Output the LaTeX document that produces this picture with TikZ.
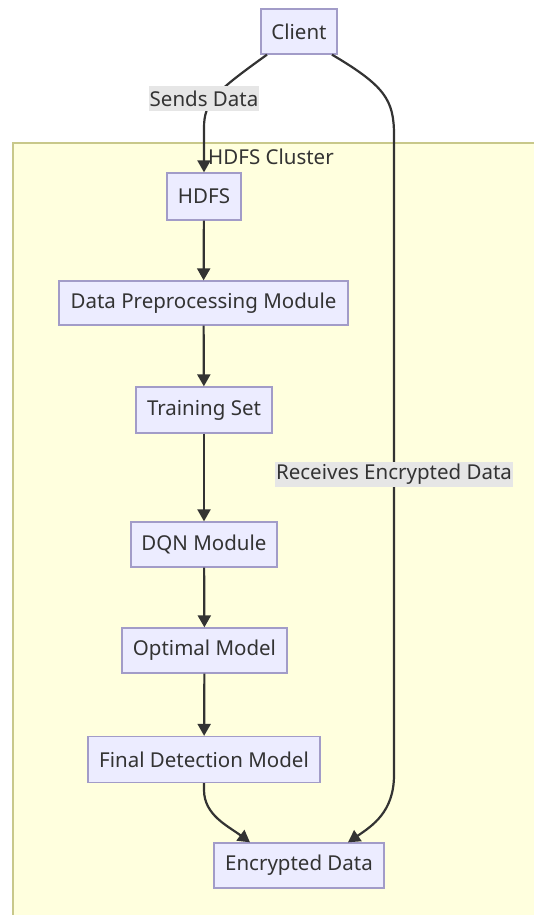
\documentclass[tikz,border=0pt]{standalone}
\usepackage{fontspec}
\setmainfont{Noto Sans}
\usetikzlibrary{arrows.meta}
\definecolor{boxfill}{HTML}{ECECFF}
\definecolor{boxline}{HTML}{A29CC8}
\definecolor{clusterfill}{HTML}{FFFFDE}
\definecolor{clusterline}{HTML}{C8C88A}
\definecolor{labelfill}{HTML}{E6E6E6}
\definecolor{ink}{HTML}{333333}
\tikzset{
  procbox/.style={draw=boxline, fill=boxfill, line width=1.3pt, text=ink,
    font=\fontsize{20.5}{24}\selectfont, inner sep=0pt, anchor=center},
  edgelabel/.style={fill=labelfill, text=ink, font=\fontsize{20.5}{24}\selectfont,
    inner xsep=1pt, inner ysep=0pt, minimum height=25pt},
  flow/.style={draw=ink, line width=2.2pt, -{Triangle[length=12pt,width=13pt]}},
}
\begin{document}
\begin{tikzpicture}[x=1pt,y=-1pt]
\useasboundingbox (0,0) rectangle (534,915);
\fill[white] (0,0) rectangle (534,915);

% cluster background
\fill[clusterfill] (13,143) rectangle (534,915);
\draw[clusterline, line width=1.2pt] (13,915) -- (13,143) -- (534,143);
\node[text=ink, font=\fontsize{20.5}{24}\selectfont] (cluster) at (271,157) {HDFS Cluster};

% process boxes
\node[procbox, minimum width=76pt, minimum height=45pt] (client) at (299,31.5) {Client};
\node[procbox, minimum width=74pt, minimum height=47pt] (hdfs) at (204,196.5) {HDFS};
\node[procbox, minimum width=289pt, minimum height=44pt] (prep) at (203.5,303) {Data Preprocessing Module};
\node[procbox, minimum width=136pt, minimum height=46pt] (train) at (204,410) {Training Set};
\node[procbox, minimum width=146pt, minimum height=45pt] (dqn) at (204,544.5) {DQN Module};
\node[procbox, minimum width=165pt, minimum height=45pt] (opt) at (204.5,650.5) {Optimal Model};
\node[procbox, minimum width=232pt, minimum height=46pt] (final) at (204,759.5) {Final Detection Model};
\node[procbox, minimum width=170pt, minimum height=45pt] (enc) at (299,865.5) {Encrypted Data};

% straight flow down the column
\draw[flow] (hdfs) -- (prep);
\draw[flow] (prep) -- (train);
\draw[flow] (train) -- (dqn);
\draw[flow] (dqn) -- (opt);
\draw[flow] (opt) -- (final);

% client to HDFS
\draw[flow] ([xshift=-32pt]client.south) .. controls (215,92) and (204,102) .. (204,128) -- (hdfs.north);
\node[edgelabel] (sends) at (204,98.5) {Sends Data};

% client to encrypted data along the right side
\draw[flow] ([xshift=33pt]client.south) .. controls (385,86) and (394,100) .. (394,135)
  -- (394,775) .. controls (394,812) and (372,826) .. ([xshift=49pt]enc.north);
\node[edgelabel] (recv) at (394,474.5) {Receives Encrypted Data};

% final model to encrypted data
\draw[flow] (final.south) -- (204,790) .. controls (204,815) and (228,826) .. ([xshift=-49pt]enc.north);
\end{tikzpicture}
\end{document}
